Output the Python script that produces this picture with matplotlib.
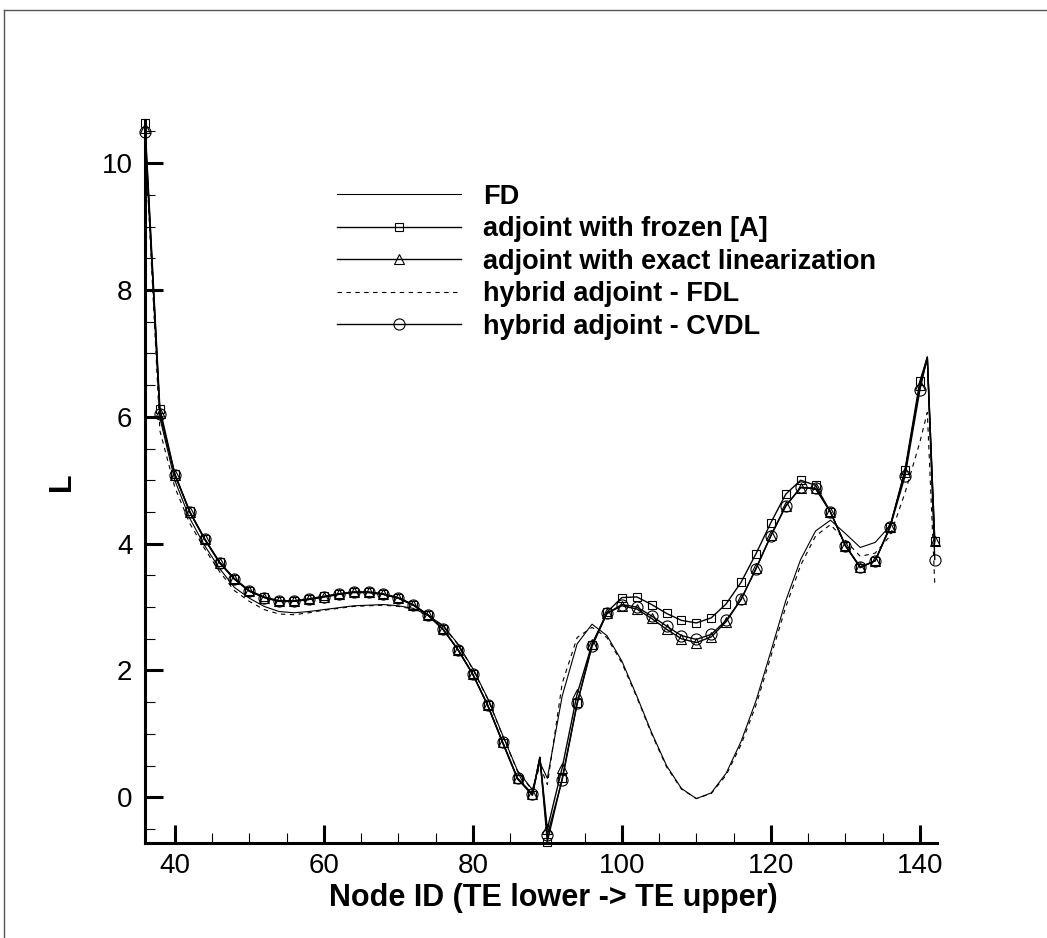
import matplotlib
matplotlib.use("Agg")
import matplotlib.pyplot as plt
from matplotlib.lines import Line2D
from matplotlib.ticker import MultipleLocator

plt.rcParams['font.family'] = ['Liberation Sans', 'DejaVu Sans']

# node ids (even nodes carry markers, 89 and 141 are extra line points)
nodes = list(range(36, 89, 2)) + [89] + list(range(90, 141, 2)) + [141, 142]

fd = [10.5, 5.98, 5.00, 4.40, 3.97, 3.61, 3.31, 3.14, 3.01, 2.93, 2.91, 2.93, 2.96, 2.99,
      3.02, 3.03, 3.04, 3.02, 2.98, 2.87, 2.71, 2.42, 2.03, 1.56, 0.98, 0.42, 0.12,
      0.55,
      0.30, 1.60, 2.42, 2.73, 2.55, 2.15, 1.60, 1.02, 0.50, 0.14, -0.02, 0.07, 0.38,
      0.88, 1.52, 2.30, 3.10, 3.75, 4.20, 4.37, 4.16, 3.94, 4.02, 4.28, 5.13, 6.50,
      6.90, 4.00]

frozen = [10.63, 6.13, 5.10, 4.51, 4.08, 3.71, 3.45, 3.26, 3.16, 3.10, 3.10, 3.13, 3.17, 3.21,
          3.24, 3.24, 3.21, 3.15, 3.04, 2.88, 2.65, 2.33, 1.94, 1.45, 0.86, 0.29, 0.03,
          0.63,
          -0.70, 0.30, 1.48, 2.40, 2.92, 3.15, 3.16, 3.04, 2.90, 2.79, 2.75, 2.83, 3.05,
          3.39, 3.84, 4.33, 4.78, 5.00, 4.92, 4.50, 3.97, 3.62, 3.73, 4.27, 5.16, 6.56,
          6.94, 4.04]

exact = [10.55, 6.06, 5.09, 4.50, 4.07, 3.70, 3.44, 3.25, 3.15, 3.09, 3.09, 3.12, 3.16, 3.20,
         3.23, 3.23, 3.20, 3.14, 3.03, 2.87, 2.65, 2.33, 1.94, 1.45, 0.87, 0.30, 0.05,
         0.63,
         -0.50, 0.47, 1.63, 2.42, 2.90, 3.02, 2.97, 2.82, 2.65, 2.50, 2.44, 2.53, 2.77,
         3.12, 3.61, 4.13, 4.60, 4.88, 4.87, 4.50, 3.97, 3.63, 3.73, 4.26, 5.13, 6.50,
         6.94, 4.04]

fdl = [10.4, 5.78, 4.89, 4.32, 3.92, 3.56, 3.26, 3.09, 2.96, 2.89, 2.88, 2.91, 2.95, 2.98,
       3.01, 3.02, 3.03, 3.01, 2.97, 2.86, 2.70, 2.41, 2.02, 1.55, 0.97, 0.41, 0.11,
       0.50,
       0.20, 1.80, 2.52, 2.68, 2.52, 2.12, 1.58, 1.00, 0.48, 0.13, -0.02, 0.06, 0.35,
       0.83, 1.45, 2.22, 3.00, 3.66, 4.12, 4.30, 4.05, 3.80, 3.85, 4.12, 4.80, 5.60,
       6.07, 3.37]

cvdl = [10.49, 6.05, 5.09, 4.50, 4.07, 3.70, 3.44, 3.25, 3.15, 3.09, 3.09, 3.12, 3.16, 3.20,
        3.23, 3.23, 3.20, 3.14, 3.03, 2.87, 2.65, 2.33, 1.94, 1.45, 0.87, 0.30, 0.05,
        0.63,
        -0.60, 0.28, 1.48, 2.38, 2.90, 3.04, 3.00, 2.86, 2.70, 2.55, 2.49, 2.57, 2.79,
        3.12, 3.60, 4.12, 4.59, 4.89, 4.87, 4.50, 3.97, 3.63, 3.73, 4.26, 5.06, 6.42,
        6.94, 3.75]

labels = ['FD', 'adjoint with frozen [A]', 'adjoint with exact linearization',
          'hybrid adjoint - FDL', 'hybrid adjoint - CVDL']

marked = [i for i, n in enumerate(nodes) if n % 2 == 0]

fig = plt.figure(figsize=(10.47, 9.38), dpi=100)
ax = fig.add_axes([145/1047, 1-843/938, (937-145)/1047, (843-120)/938])

ax.plot(nodes, fd, color='black', lw=0.8, label=labels[0], clip_on=False)
ax.plot(nodes, frozen, color='black', lw=1.0, marker='s', ms=5.5, mfc='none', mew=0.8,
        markevery=marked, label=labels[1], clip_on=False)
ax.plot(nodes, exact, color='black', lw=1.0, marker='^', ms=6.5, mfc='none', mew=0.8,
        markevery=marked, label=labels[2], clip_on=False)
ax.plot(nodes, fdl, color='black', lw=0.8, dashes=(4, 4), label=labels[3], clip_on=False)
ax.plot(nodes, cvdl, color='black', lw=1.0, marker='o', ms=8, mfc='none', mew=0.8,
        markevery=marked, label=labels[4], clip_on=False)

ax.set_xlim(36, 142.3)
ax.set_ylim(-0.72, 10.68)
ax.spines['top'].set_visible(False)
ax.spines['right'].set_visible(False)
ax.spines['left'].set_linewidth(2.2)
ax.spines['bottom'].set_linewidth(2.2)

ax.xaxis.set_major_locator(MultipleLocator(20))
ax.xaxis.set_minor_locator(MultipleLocator(5))
ax.yaxis.set_major_locator(MultipleLocator(2))
ax.yaxis.set_minor_locator(MultipleLocator(0.5))
ax.tick_params(which='major', direction='in', length=13, width=2.2, labelsize=20, pad=7)
ax.tick_params(which='minor', direction='in', length=7, width=0.8)
ax.tick_params(axis='y', which='major', pad=9)

ax.set_xlabel('Node ID (TE lower -> TE upper)', fontsize=22, fontweight='bold')
ax.xaxis.set_label_coords(0.516, -0.056)
ax.set_ylabel('L', fontsize=22, fontweight='bold')
ax.yaxis.set_label_coords(-0.086, 0.5)

leg = ax.legend(loc='upper left', bbox_to_anchor=(323/1047, 1-170/938),
                bbox_transform=fig.transFigure, frameon=False,
                handlelength=4.6, handletextpad=0.82, labelspacing=0.24,
                borderpad=0, numpoints=1, prop={'weight': 'bold', 'size': 19.5})

# outer frame (left and top edges visible)
fig.add_artist(Line2D([4/1047, 4/1047], [0, 1-10/938], transform=fig.transFigure,
                      color='#555555', lw=1))
fig.add_artist(Line2D([4/1047, 1], [1-10/938, 1-10/938], transform=fig.transFigure,
                      color='#555555', lw=1))

fig.savefig('out.png', dpi=100)
